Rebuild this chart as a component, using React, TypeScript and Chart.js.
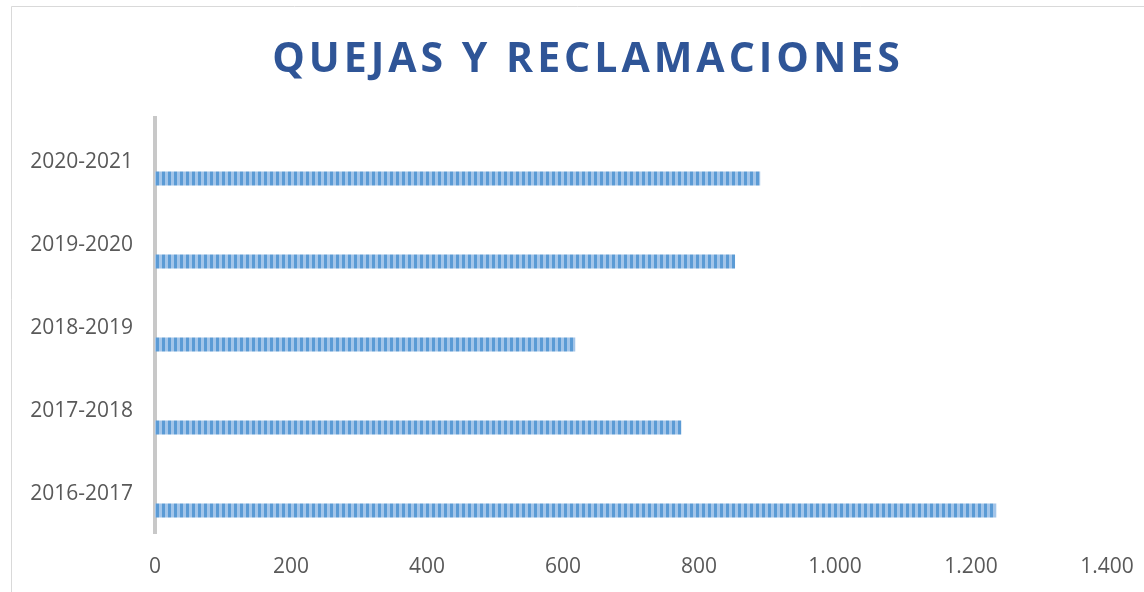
import { useEffect, useRef } from "react";
import { Chart, registerables } from "chart.js";

Chart.register(...registerables);

const categories = ["2020-2021", "2019-2020", "2018-2019", "2017-2018", "2016-2017"];
const values = [890, 853, 618, 774, 1237];
const emptySeries = [null, null, null, null, null];
const xTickValues = [0, 200, 400, 600, 800, 1000, 1200, 1400];
const chartTitle = "QUEJAS Y RECLAMACIONES";

const formatThousands = (v: number) =>
  String(Math.round(v)).replace(/\B(?=(\d{3})+(?!\d))/g, ".");

function makePattern(): CanvasPattern | string {
  const c = document.createElement("canvas");
  c.width = 6;
  c.height = 14;
  const g = c.getContext("2d");
  if (!g) return "#5b9bd5";
  g.fillStyle = "#a3c5e9";
  g.fillRect(0, 0, 6, 14);
  g.fillStyle = "#5b9bd5";
  g.fillRect(0, 0, 3, 14);
  const p = g.createPattern(c, "repeat");
  return p || "#5b9bd5";
}

const framePlugin = {
  id: "frameAndTitle",
  beforeDraw(chart: any) {
    const ctx = chart.ctx as CanvasRenderingContext2D;
    ctx.save();
    ctx.fillStyle = "#ffffff";
    ctx.fillRect(0, 0, chart.width, chart.height);
    ctx.strokeStyle = "#d9d9d9";
    ctx.lineWidth = 1;
    ctx.beginPath();
    ctx.moveTo(11.5, chart.height);
    ctx.lineTo(11.5, 6.5);
    ctx.lineTo(chart.width, 6.5);
    ctx.stroke();
    ctx.restore();
  },
  afterDraw(chart: any) {
    const ctx = chart.ctx as CanvasRenderingContext2D;
    ctx.save();
    ctx.font = "bold 41px 'Open Sans'";
    (ctx as any).letterSpacing = "4px";
    ctx.fillStyle = "#2f5597";
    ctx.textAlign = "center";
    ctx.textBaseline = "alphabetic";
    ctx.fillText(chartTitle, 588, 72);
    ctx.restore();
  },
};

export default function App() {
  const ref = useRef<HTMLCanvasElement | null>(null);

  useEffect(() => {
    document.body.style.margin = "0";
    if (!ref.current) return;
    const pattern = makePattern();
    const chart = new Chart(ref.current, {
      type: "bar",
      data: {
        labels: categories,
        datasets: [
          {
            label: "",
            data: emptySeries as any,
            backgroundColor: "rgba(0,0,0,0)",
          },
          {
            label: "Quejas y reclamaciones",
            data: values,
            backgroundColor: pattern as any,
            borderWidth: 0,
          },
        ],
      },
      options: {
        indexAxis: "y",
        animation: false,
        responsive: false,
        maintainAspectRatio: false,
        datasets: {
          bar: {
            categoryPercentage: 0.916,
            barPercentage: 0.368,
          },
        },
        layout: {
          padding: { top: 118, bottom: 1, left: 0, right: 37 },
        },
        plugins: {
          legend: { display: false },
          title: { display: false },
          tooltip: { enabled: false },
        },
        scales: {
          x: {
            type: "linear",
            min: 0,
            max: 1400,
            afterFit: (s: any) => {
              s.height = 58;
              s.paddingLeft = 0;
              s.paddingRight = 0;
            },
            afterBuildTicks: (s: any) => {
              s.ticks = xTickValues.map((v) => ({ value: v }));
            },
            grid: { display: false, drawTicks: false },
            border: { display: false },
            ticks: {
              stepSize: 200,
              padding: 21,
              color: "#595959",
              font: { family: "'Open Sans'", size: 21 },
              callback: (v: any) => formatThousands(Number(v)),
            },
          },
          y: {
            z: 1,
            afterFit: (s: any) => {
              s.width = 155;
              s.paddingTop = 0;
              s.paddingBottom = 0;
            },
            grid: { display: false, drawTicks: false },
            border: { display: true, color: "#c8c8c8", width: 4 },
            ticks: {
              padding: 22,
              labelOffset: 3,
              color: "#595959",
              font: { family: "'Open Sans'", size: 21 },
            },
          },
        },
      },
      plugins: [framePlugin],
    });
    return () => chart.destroy();
  }, []);

  return (
    <div style={{ width: 1144, height: 592 }}>
      <canvas ref={ref} width={1144} height={592} style={{ display: "block" }} />
    </div>
  );
}
